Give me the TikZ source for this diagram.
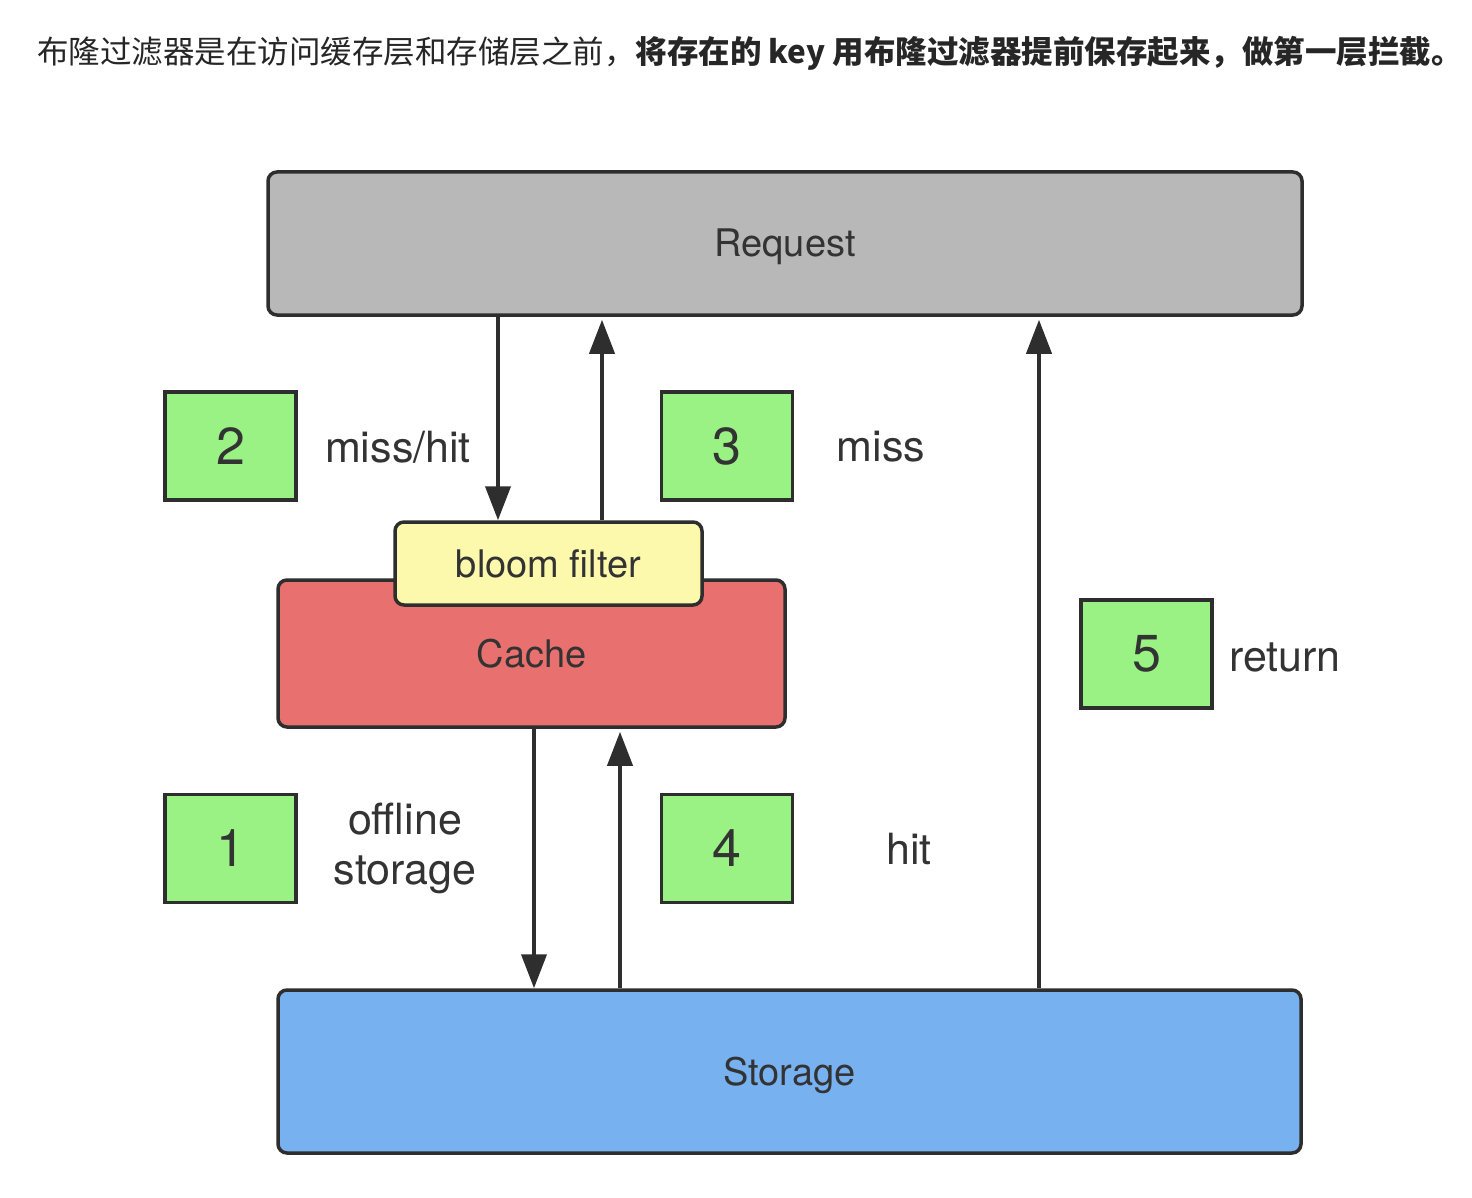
\documentclass[tikz,border=0pt]{standalone}
\usepackage{fontspec}
\setmainfont{TeX Gyre Heros}
\newfontfamily\cjk{Noto Sans CJK SC}
\usetikzlibrary{arrows.meta}
\definecolor{edge}{HTML}{2E2E2E}
\definecolor{txt}{HTML}{333333}
\definecolor{reqfill}{HTML}{B8B8B8}
\definecolor{greenfill}{HTML}{99F283}
\definecolor{cachefill}{HTML}{E8706E}
\definecolor{bloomfill}{HTML}{FCF9AC}
\definecolor{storefill}{HTML}{78B1F0}
\begin{document}
\begin{tikzpicture}[x=1pt,y=-1pt,
  layer/.style={draw=edge, line width=3.5pt, rounded corners=9pt, inner sep=0pt,
    text=txt, font=\fontsize{38}{44}\selectfont, text height=27pt, text depth=0pt},
  numbox/.style={draw=edge, line width=3.5pt, fill=greenfill, inner sep=0pt,
    minimum width=131pt, minimum height=108pt, text=txt, font=\fontsize{52}{60}\selectfont},
  lbl/.style={text=txt, inner sep=0pt, font=\fontsize{43}{50}\selectfont},
  arr/.style={draw=edge, line width=4pt, -{Triangle[length=34pt,width=25pt]}}
]
\useasboundingbox (0,0) rectangle (1472,1198);
\fill[white] (0,0) rectangle (1472,1198);

% header
\node[anchor=mid west, inner sep=0pt, text=black!85, font=\cjk\fontsize{31.5}{36}\selectfont] (head) at (37,61)
  {布隆过滤器是在访问缓存层和存储层之前，\textbf{将存在的 key 用布隆过滤器提前保存起来，做第一层拦截。}};

% layers
\node[layer, fill=reqfill, minimum width=1034pt, minimum height=143pt] (req) at (785,243.5) {Request};
\node[layer, fill=cachefill, minimum width=507pt, minimum height=147pt] (cache) at (531.5,653.5) {Cache};
\node[layer, fill=bloomfill, minimum width=307pt, minimum height=83pt] (bloom) at (548.5,563.5) {bloom filter};
\node[layer, fill=storefill, minimum width=1023pt, minimum height=163pt] (store) at (789.5,1071.5) {Storage};

% number boxes
\node[numbox] (n2) at (230.5,446) {2};
\node[numbox] (n3) at (727,446) {3};
\node[numbox] (n5) at (1146.5,654) {5};
\node[numbox] (n1) at (230.5,848.5) {1};
\node[numbox] (n4) at (727,848.5) {4};

% labels
\node[lbl] (lmiss) at (398,447) {miss/hit};
\node[lbl] (lmiss3) at (881,447) {miss};
\node[lbl] (lret) at (1285,657) {return};
\node[lbl, align=center] (loff) at (405,848) {offline\\storage};
\node[lbl] (lhit) at (909,849) {hit};

% arrow columns
\coordinate (xa) at (498,0);
\coordinate (xb) at (602,0);
\coordinate (xc) at (534,0);
\coordinate (xd) at (620,0);
\coordinate (xe) at (1039,0);

\draw[arr] (xa |- req.south) -- (xa |- bloom.north);
\draw[arr, shorten >=3pt] (xb |- bloom.north) -- (xb |- req.south);
\draw[arr] (xc |- cache.south) -- (xc |- store.north);
\draw[arr, shorten >=3pt] (xd |- store.north) -- (xd |- cache.south);
\draw[arr, shorten >=3pt] (xe |- store.north) -- (xe |- req.south);
\end{tikzpicture}
\end{document}
